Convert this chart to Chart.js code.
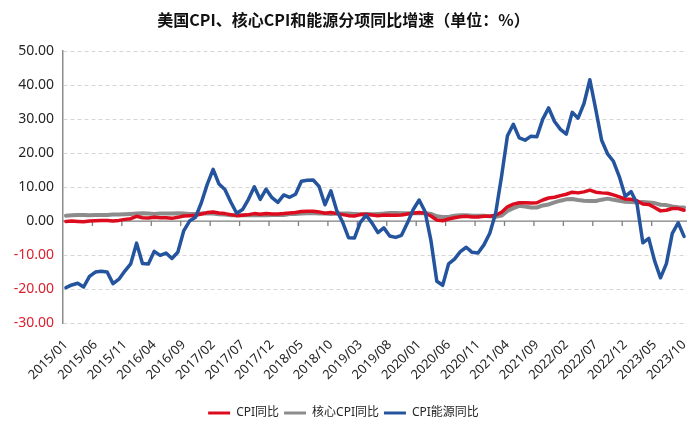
<!DOCTYPE html>
<html>
<head>
<meta charset="utf-8">
<script src="https://cdn.jsdelivr.net/npm/chart.js@4.4.1/dist/chart.umd.min.js"></script>
<style>
  html, body { margin: 0; padding: 0; background: #ffffff; }
  #wrap { width: 700px; height: 431px; }
</style>
</head>
<body>
<div id="wrap"><canvas id="c" width="700" height="431"></canvas></div>
<script>
// ---- data (monthly, 2015/01 - 2023/10) ----
const years = [2015, 2016, 2017, 2018, 2019, 2020, 2021, 2022, 2023];
const months = ['01','02','03','04','05','06','07','08','09','10','11','12'];
const categories = [];
years.forEach(y => months.forEach(m => { if (!(y === 2023 && +m > 10)) categories.push(y + '/' + m); }));

const cpiYoY = [
  -0.1, 0.0, -0.1, -0.2, 0.0, 0.1, 0.2, 0.2, 0.0, 0.2, 0.5, 0.7,
  1.4, 1.0, 0.9, 1.1, 1.0, 1.0, 0.8, 1.1, 1.5, 1.6, 1.7, 2.1,
  2.5, 2.7, 2.4, 2.2, 1.9, 1.6, 1.7, 1.9, 2.2, 2.0, 2.2, 2.1,
  2.1, 2.2, 2.4, 2.5, 2.8, 2.9, 2.9, 2.7, 2.3, 2.5, 2.2, 1.9,
  1.6, 1.5, 1.9, 2.0, 1.8, 1.6, 1.8, 1.7, 1.7, 1.8, 2.1, 2.3,
  2.5, 2.3, 1.5, 0.3, 0.1, 0.6, 1.0, 1.3, 1.4, 1.2, 1.2, 1.4,
  1.4, 1.7, 2.6, 4.2, 5.0, 5.4, 5.4, 5.3, 5.4, 6.2, 6.8, 7.0,
  7.5, 7.9, 8.5, 8.3, 8.6, 9.1, 8.5, 8.3, 8.2, 7.7, 7.1, 6.5,
  6.4, 6.0, 5.0, 4.9, 4.0, 3.0, 3.2, 3.7, 3.7, 3.2
];
const coreYoY = [
  1.6, 1.7, 1.8, 1.8, 1.7, 1.8, 1.8, 1.8, 1.9, 1.9, 2.0, 2.1,
  2.2, 2.3, 2.2, 2.1, 2.2, 2.2, 2.2, 2.3, 2.2, 2.1, 2.1, 2.2,
  2.3, 2.2, 2.0, 1.9, 1.7, 1.7, 1.7, 1.7, 1.7, 1.8, 1.7, 1.8,
  1.8, 1.8, 2.1, 2.1, 2.2, 2.3, 2.4, 2.2, 2.2, 2.1, 2.2, 2.2,
  2.2, 2.1, 2.0, 2.1, 2.0, 2.1, 2.2, 2.4, 2.4, 2.3, 2.3, 2.3,
  2.3, 2.4, 2.1, 1.4, 1.2, 1.2, 1.6, 1.7, 1.7, 1.6, 1.6, 1.6,
  1.4, 1.3, 1.6, 3.0, 3.8, 4.5, 4.3, 4.0, 4.0, 4.6, 4.9, 5.5,
  6.0, 6.4, 6.5, 6.2, 6.0, 5.9, 5.9, 6.3, 6.6, 6.3, 6.0, 5.7,
  5.6, 5.5, 5.6, 5.5, 5.3, 4.8, 4.7, 4.3, 4.1, 4.0
];
const energyYoY = [
  -19.6, -18.8, -18.3, -19.4, -16.3, -15.0, -14.8, -15.0, -18.4, -17.1, -14.7, -12.6,
  -6.5, -12.5, -12.6, -8.9, -10.1, -9.4, -11.0, -9.2, -2.9, 0.0, 1.1, 5.4,
  10.8, 15.2, 10.9, 9.3, 5.6, 2.3, 3.4, 6.4, 10.1, 6.4, 9.4, 6.9,
  5.5, 7.7, 7.0, 7.9, 11.7, 12.0, 12.1, 10.2, 4.8, 8.9, 3.1, -0.3,
  -4.9, -5.0, -0.4, 1.7, -0.6, -3.4, -2.0, -4.4, -4.8, -4.2, -0.6, 3.4,
  6.2, 2.8, -5.7, -17.7, -18.9, -12.6, -11.2, -9.0, -7.7, -9.2, -9.4, -7.0,
  -3.6, 2.4, 13.2, 25.1, 28.5, 24.5, 23.8, 25.0, 24.8, 30.0, 33.3, 29.3,
  27.0, 25.6, 32.0, 30.3, 34.6, 41.6, 32.9, 23.8, 19.8, 17.6, 13.1, 7.3,
  8.7, 5.2, -6.4, -5.1, -11.7, -16.7, -12.5, -3.6, -0.5, -4.5
];
const seriesNames = ['CPI同比', '核心CPI同比', 'CPI能源同比'];
const yTicks = { min: -30, max: 50, step: 10 };
const labelEvery = 5;

const FONT = "'Noto Sans', 'Noto Sans CJK SC', sans-serif";

// zero axis line with tick marks every 5 categories
const zeroAxis = {
  id: 'zeroAxis',
  beforeDatasetsDraw(chart) {
    const { ctx, chartArea, scales } = chart;
    const x = scales.x, y = scales.y;
    const y0 = y.getPixelForValue(0);
    ctx.save();
    ctx.strokeStyle = '#7f7f7f';
    ctx.lineWidth = 1.3;
    ctx.beginPath();
    ctx.moveTo(chartArea.left, y0);
    ctx.lineTo(chartArea.right, y0);
    for (let i = labelEvery; i < categories.length - 1; i += labelEvery) {
      const bx = (x.getPixelForValue(i - 1) + x.getPixelForValue(i)) / 2;
      ctx.moveTo(bx, y0);
      ctx.lineTo(bx, y0 + 5);
    }
    ctx.stroke();
    ctx.restore();
  }
};

new Chart(document.getElementById('c'), {
  type: 'line',
  data: {
    labels: categories,
    datasets: [
      { label: seriesNames[0], data: cpiYoY, borderColor: '#DC0B1E', backgroundColor: '#DC0B1E', borderWidth: 3.5, order: 1 },
      { label: seriesNames[1], data: coreYoY, borderColor: '#8C8C8C', backgroundColor: '#8C8C8C', borderWidth: 4, order: 2 },
      { label: seriesNames[2], data: energyYoY, borderColor: '#24549D', backgroundColor: '#24549D', borderWidth: 3.5, order: 0 }
    ]
  },
  options: {
    responsive: false,
    devicePixelRatio: 1,
    animation: false,
    elements: { point: { radius: 0 }, line: { tension: 0, borderJoinStyle: 'round', borderCapStyle: 'round' } },
    layout: { padding: { left: 0, right: 13, top: 0, bottom: 2 } },
    scales: {
      x: {
        offset: true,
        afterFit: (s) => { s.height += 5; s.paddingRight = 0; },
        grid: { display: false, drawTicks: false },
        border: { display: false },
        ticks: {
          autoSkip: false,
          maxRotation: 45,
          minRotation: 45,
          padding: 14,
          color: '#262626',
          font: { family: FONT, size: 13 },
          callback: (v, i) => (i % labelEvery === 0 ? categories[i] : '')
        }
      },
      y: {
        min: yTicks.min,
        max: yTicks.max,
        afterFit: (s) => { s.width = 63; },
        grid: {
          drawTicks: false,
          color: (c) => (c.tick && c.tick.value === 0 ? 'rgba(0,0,0,0)' : '#D6D6D6'),
          lineWidth: 1
        },
        border: { display: true, color: '#8C8C8C', width: 1.5, dash: [4, 3] },
        ticks: {
          stepSize: yTicks.step,
          padding: 9,
          font: { family: FONT, size: 14 },
          color: (c) => (c.tick && c.tick.value < 0 ? '#E0202F' : '#262626'),
          callback: (v) => Number(v).toFixed(2)
        }
      }
    },
    plugins: {
      title: {
        display: true,
        text: '美国CPI、核心CPI和能源分项同比增速（单位：%）',
        color: '#111111',
        font: { family: "'Noto Sans CJK SC', sans-serif", size: 16, weight: 'bold' },
        padding: { top: 10, bottom: 22 }
      },
      legend: {
        position: 'bottom',
        labels: {
          boxWidth: 22,
          boxHeight: 3,
          padding: 5,
          color: '#262626',
          font: { family: FONT, size: 12 },
          sort: (a, b) => a.datasetIndex - b.datasetIndex,
          generateLabels: (chart) => Chart.defaults.plugins.legend.labels.generateLabels(chart)
            .map(l => Object.assign(l, { lineWidth: 0, fillStyle: l.strokeStyle }))
        }
      },
      tooltip: { enabled: false }
    }
  },
  plugins: [zeroAxis]
});
</script>
</body>
</html>
